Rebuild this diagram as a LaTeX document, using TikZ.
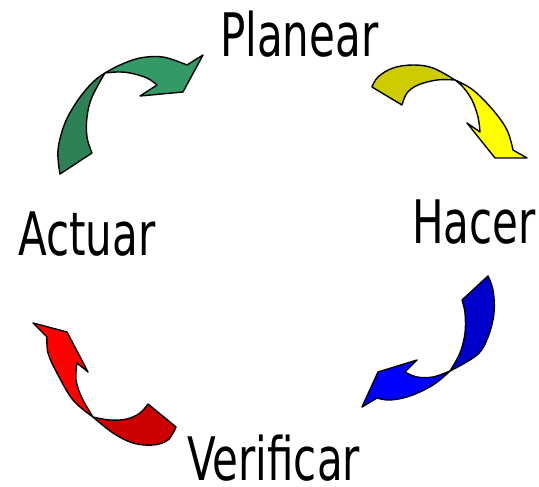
\documentclass[tikz,border=0pt]{standalone}
\usepackage{fontspec}
\newfontfamily\stagefont[FakeStretch=0.7]{DejaVu Sans}
\usetikzlibrary{positioning}

\definecolor{greenfront}{HTML}{339966}
\definecolor{greenback}{HTML}{2E8055}
\definecolor{yellowfront}{HTML}{FFFF00}
\definecolor{yellowback}{HTML}{CCCC00}
\definecolor{bluefront}{HTML}{0000FF}
\definecolor{blueback}{HTML}{0000CC}
\definecolor{redfront}{HTML}{FF0000}
\definecolor{redback}{HTML}{CC0000}

\begin{document}
\begin{tikzpicture}[
    x=1pt, y=-1pt,
    stage/.style={font=\stagefont\fontsize{60}{60}\selectfont, inner sep=0pt, anchor=base west},
    ribbon/.style={draw=black, line width=1.4pt, line join=round},
    curve/.style={smooth, tension=0.6},
]
\useasboundingbox (0,0) rectangle (539,487);

% Labels
\node[stage] (planear) at (220,57) {Planear};
\node[stage] (hacer) at (412,243) {Hacer};
\node[stage] (actuar) at (18,255) {Actuar};
\node[stage] (verificar) at (187,480) {Verificar};

% Green arrow (Actuar -> Planear)
\path[ribbon, fill=greenback] (60,174)
    -- plot[curve] coordinates {(60,174) (58,150) (65,123) (78,100) (93,82) (105,73)}
    -- plot[curve] coordinates {(105,73) (92,97) (87,117) (87,137) (92,153)}
    -- cycle;
\path[ribbon, fill=greenfront] (105,73)
    -- plot[curve] coordinates {(105,73) (120,65) (140,58) (163,57) (187,65)}
    -- (203,55) -- (183,92) -- (140,96) -- (157,85)
    -- plot[curve] coordinates {(157,85) (147,78) (130,73) (117,72) (105,73)}
    -- cycle;

% Yellow arrow (Planear -> Hacer)
\path[ribbon, fill=yellowback] (372,87)
    -- plot[curve] coordinates {(372,87) (378,77) (393,68) (413,65) (433,68) (455,80)}
    -- plot[curve] coordinates {(455,80) (437,80) (418,85) (407,93) (402,105)}
    -- cycle;
\path[ribbon, fill=yellowfront] (455,80)
    -- plot[curve] coordinates {(455,80) (473,90) (493,110) (507,130) (513,150)}
    -- (527,158) -- (495,158) -- (467,123) -- (480,132)
    -- plot[curve] coordinates {(480,132) (478,117) (472,100) (463,87) (455,80)}
    -- cycle;

% Blue arrow (Hacer -> Verificar)
\path[ribbon, fill=blueback] (488,276)
    -- plot[curve] coordinates {(488,276) (493,290) (494,313) (488,337) (477,355) (450,371)}
    -- plot[curve] coordinates {(450,371) (460,353) (465,333) (465,313) (462,300)}
    -- cycle;
\path[ribbon, fill=bluefront] (450,371)
    -- plot[curve] coordinates {(450,371) (433,385) (410,396) (390,400) (377,398)}
    -- (362,407) -- (378,372) -- (417,360) -- (405,372)
    -- plot[curve] coordinates {(405,372) (417,377) (433,377) (450,371)}
    -- cycle;

% Red arrow (Verificar -> Actuar)
\path[ribbon, fill=redback] (148,404)
    -- plot[curve] coordinates {(148,404) (140,413) (127,419) (110,420) (93,417)}
    -- plot[curve] coordinates {(93,417) (113,433) (133,443) (153,445) (168,440) (176,427)}
    -- cycle;
\path[ribbon, fill=redfront] (93,417)
    -- plot[curve] coordinates {(93,417) (73,400) (57,373) (48,353) (47,337)}
    -- (33,323) -- (67,332) -- (88,372) -- (77,363)
    -- plot[curve] coordinates {(77,363) (76,380) (82,398) (93,417)}
    -- cycle;

\end{tikzpicture}
\end{document}
